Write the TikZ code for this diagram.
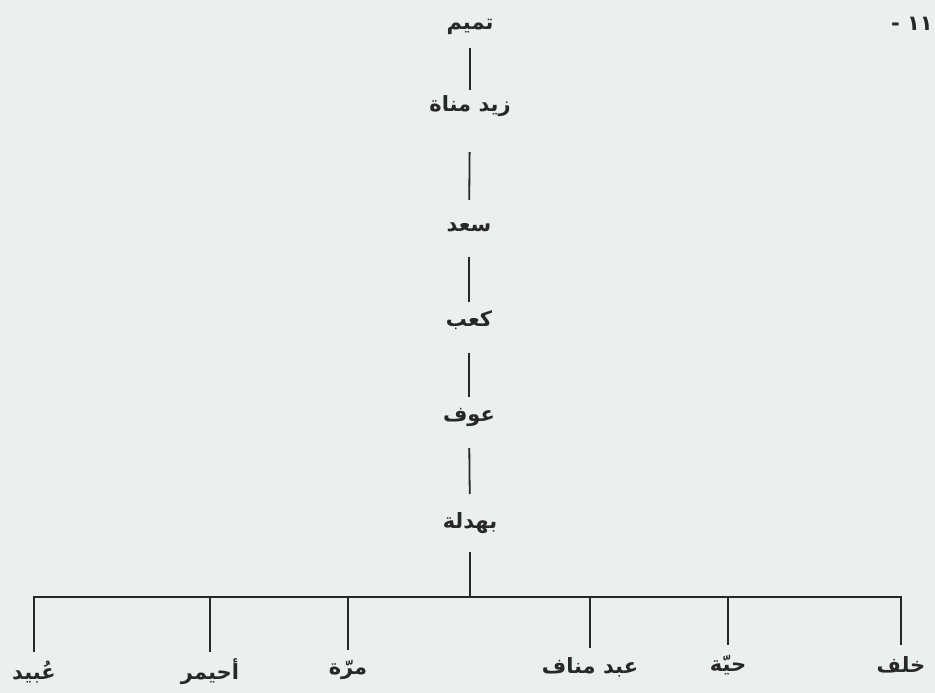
\documentclass[tikz,border=0pt]{standalone}
\usepackage{fontspec}
\TeXXeTstate=1
\newfontfamily\arabicfont[Script=Arabic]{DejaVu Sans}
\definecolor{paper}{RGB}{234,239,240}
\definecolor{ink}{RGB}{40,40,40}
\tikzset{
  lbl/.style={font=\arabicfont\bfseries\fontsize{21}{24}\selectfont, text=ink, inner sep=0pt, anchor=center},
  link/.style={draw=ink, line width=1.8pt},
}
\begin{document}
\begin{tikzpicture}[x=1pt,y=-1pt]
\fill[paper] (0,0) rectangle (935,693);
\useasboundingbox (0,0) rectangle (935,693);
% page number
\node[lbl, anchor=east] (pg) at (933,24) {- ١١};
% chain
\node[lbl] (t1) at (470,27) {\beginR تميم\endR};
\node[lbl] (t2) at (470,106) {\beginR زيد مناة\endR};
\node[lbl] (t3) at (469,227) {\beginR سعد\endR};
\node[lbl] (t4) at (469,320) {\beginR كعب\endR};
\node[lbl] (t5) at (469,417) {\beginR عوف\endR};
\node[lbl] (t6) at (470,523) {\beginR بهدلة\endR};
\coordinate (bar) at (470,597);
% children
\node[lbl] (k1) at (34,672) {\beginR عُبيد\endR};
\node[lbl] (k2) at (210,672) {\beginR أحيمر\endR};
\node[lbl] (k3) at (348,670) {\beginR مرّة\endR};
\node[lbl] (k4) at (590,667) {\beginR عبد مناف\endR};
\node[lbl] (k5) at (728,665) {\beginR حيّة\endR};
\node[lbl] (k6) at (901,665) {\beginR خلف\endR};
% connectors
\draw[link, shorten <=21pt, shorten >=16pt] (t1.center) -- (t2.center);
\draw[link, shorten <=46pt, shorten >=27pt] (t2.center) -- (t3.center);
\draw[link, shorten <=30pt, shorten >=18pt] (t3.center) -- (t4.center);
\draw[link, shorten <=33pt, shorten >=20pt] (t4.center) -- (t5.center);
\draw[link, shorten <=31pt, shorten >=29pt] (t5.center) -- (t6.center);
\draw[link, shorten <=29pt] (t6.center) -- (bar);
\draw[link, shorten <=20pt, shorten >=20pt] (k1.center) |- (bar) -| (k6.center);
\draw[link, shorten >=20pt] (k2 |- bar) -- (k2.center);
\draw[link, shorten >=20pt] (k3 |- bar) -- (k3.center);
\draw[link, shorten >=19pt] (k4 |- bar) -- (k4.center);
\draw[link, shorten >=20pt] (k5 |- bar) -- (k5.center);
\end{tikzpicture}
\end{document}
